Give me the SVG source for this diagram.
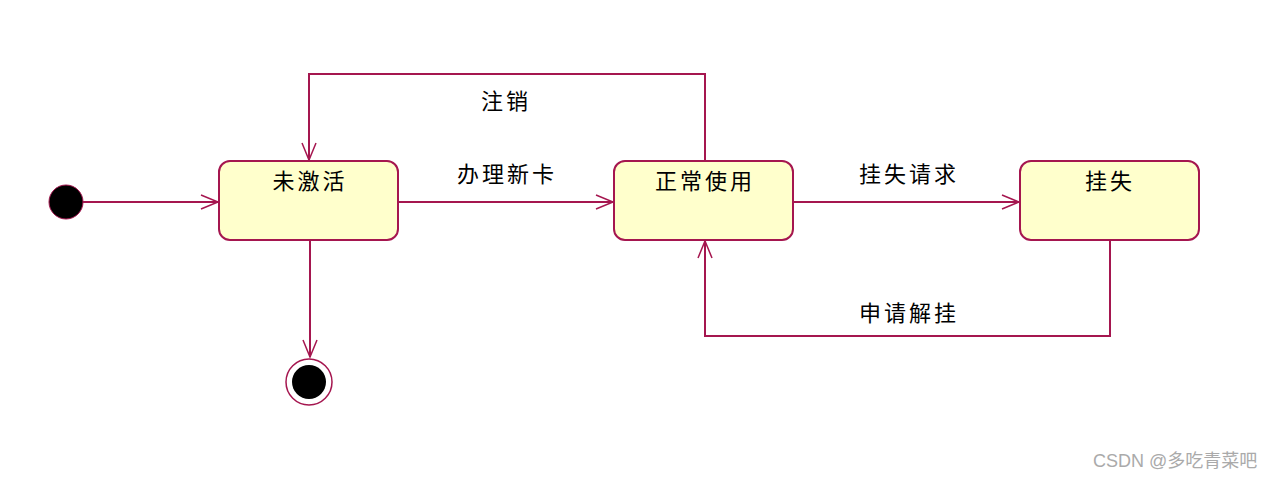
<svg xmlns="http://www.w3.org/2000/svg" width="1280" height="479" viewBox="0 0 1280 479">
<style>
.st{fill:#ffffcc;stroke:#a5164f;stroke-width:2}
.ln{fill:none;stroke:#a5164f;stroke-width:2}
.t{font-family:"Noto Sans CJK SC","Liberation Sans",sans-serif;font-size:22px;fill:#000;text-anchor:middle;letter-spacing:3px}
.wm{font-family:"Liberation Sans","Noto Sans CJK SC",sans-serif;font-size:18px;fill:#aaa}
</style>
<defs>
<marker id="open" markerWidth="20" markerHeight="16" viewBox="0 0 20 16" refX="18" refY="8" orient="auto" markerUnits="userSpaceOnUse">
<path d="M1,1 L18,8 L1,15" fill="none" stroke="#a5164f" stroke-width="1.5"/>
</marker>
</defs>
<rect width="1280" height="479" fill="#fff"/>
<g id="connectors">
<line class="ln" x1="83" y1="202" x2="218" y2="202" marker-end="url(#open)"/>
<line class="ln" x1="398" y1="202" x2="613" y2="202" marker-end="url(#open)"/>
<line class="ln" x1="793" y1="202" x2="1019" y2="202" marker-end="url(#open)"/>
<polyline class="ln" points="705,161 705,74 309,74 309,160" marker-end="url(#open)"/>
<line class="ln" x1="310" y1="240" x2="310" y2="357" marker-end="url(#open)"/>
<polyline class="ln" points="1110,240 1110,336 705,336 705,241" marker-end="url(#open)"/>
<text class="t" x="506" y="109">注销</text>
<text class="t" x="507" y="182">办理新卡</text>
<text class="t" x="909" y="182">挂失请求</text>
<text class="t" x="909" y="321">申请解挂</text>
</g>
<g id="initial"><circle cx="66" cy="202" r="17" fill="#000" stroke="#a5164f" stroke-width="1"/></g>
<g id="s1"><rect class="st" x="219" y="161" width="179" height="79" rx="11"/><text class="t" x="310" y="189">未激活</text></g>
<g id="s2"><rect class="st" x="614" y="161" width="179" height="79" rx="11"/><text class="t" x="705" y="189">正常使用</text></g>
<g id="s3"><rect class="st" x="1020" y="161" width="179" height="79" rx="11"/><text class="t" x="1110" y="189">挂失</text></g>
<g id="final"><circle cx="309" cy="382" r="23" fill="#fff" stroke="#a5164f" stroke-width="1.5"/><circle cx="309" cy="382" r="17" fill="#000"/></g>
<text class="wm" x="1093" y="467">CSDN @多吃青菜吧</text>
</svg>
